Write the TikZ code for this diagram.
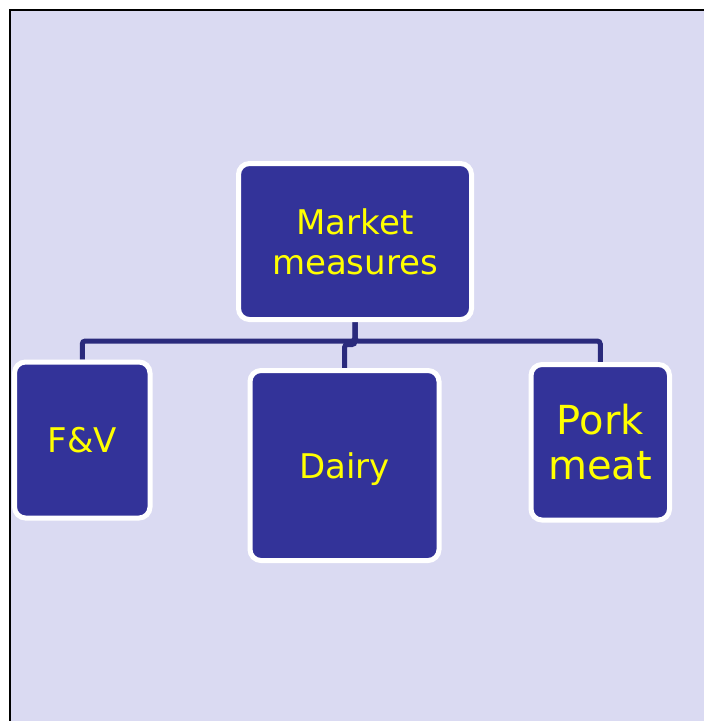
\documentclass[tikz,border=0pt]{standalone}
\usepackage{fontspec}
\setmainfont{DejaVu Sans}
\definecolor{bgl}{RGB}{218,218,242}
\definecolor{boxblue}{RGB}{51,51,153}
\definecolor{conncol}{RGB}{42,42,124}
\definecolor{txtyellow}{RGB}{255,255,0}
\pgfdeclarelayer{back}
\pgfdeclarelayer{mid}
\pgfsetlayers{back,mid,main}
\tikzset{
  orgbox/.style={draw=white, line width=5pt, fill=boxblue, rounded corners=11pt,
    text=txtyellow, align=center, inner sep=0pt, font=\fontsize{34}{40}\selectfont},
  conn/.style={draw=conncol, line width=5pt, rounded corners=3pt}
}
\begin{document}
\begin{tikzpicture}[x=1pt,y=-1pt]
\useasboundingbox (0,0) rectangle (704,721);
\clip (0,0) rectangle (704,721);
\node[orgbox, minimum width=233pt, minimum height=156pt] (mm) at (355,241.5) {Market\\measures};
\node[orgbox, minimum width=135.5pt, minimum height=156pt] (fv) at (82.25,440) {F\&V};
\node[orgbox, minimum width=189pt, minimum height=190pt, text depth=0pt] (dairy) at (344.5,465.5) {Dairy};
\node[orgbox, minimum width=138.5pt, minimum height=155.5pt, font=\fontsize{40}{45}\selectfont] (pork) at (600.25,442.25) {Pork\\meat};
\coordinate (hub) at (355,341);
\coordinate (hubd) at (355,344.5);
\begin{pgfonlayer}{back}
\fill[white] (0,0) rectangle (704,721);
\draw[fill=bgl, line width=2.5pt] (9.75,9.75) rectangle (730,750);
\end{pgfonlayer}
\begin{pgfonlayer}{mid}
\draw[conn] (mm.south) -- (hub) -| (fv.north);
\draw[conn] (mm.south) -- (hub) -| (pork.north);
\draw[conn] (mm.south) -- (hubd) -| (dairy.north);
\end{pgfonlayer}
\end{tikzpicture}
\end{document}
